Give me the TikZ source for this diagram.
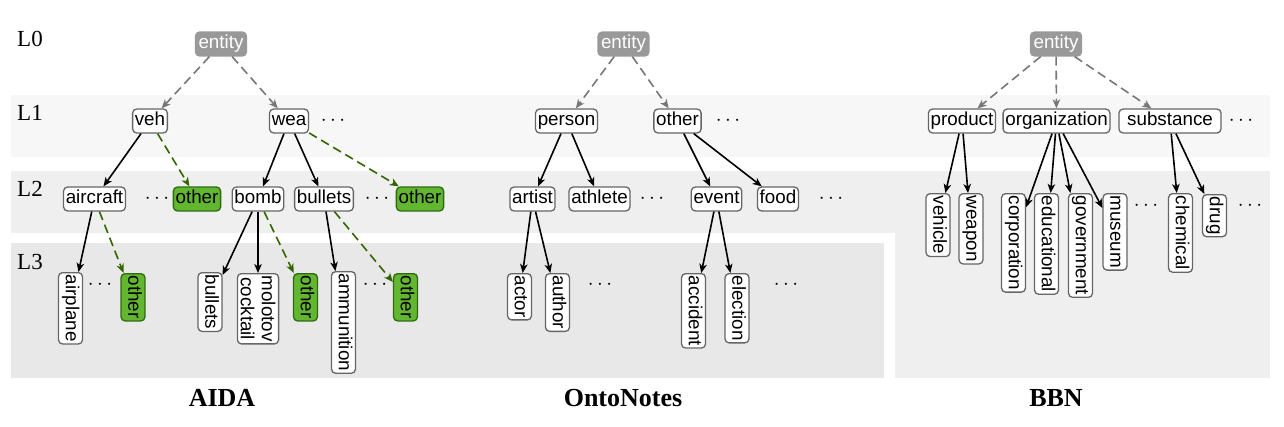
\documentclass[tikz,border=0pt]{standalone}
\usepackage{fontspec}
\setmainfont{Liberation Serif}
\newfontfamily\nodefontfam{Liberation Sans}
\usetikzlibrary{arrows.meta}
\definecolor{bandA}{HTML}{F7F7F7}
\definecolor{bandB}{HTML}{EFEFEF}
\definecolor{bandC}{HTML}{E8E8E8}
\definecolor{grnfill}{HTML}{63B630}
\definecolor{grnline}{HTML}{2E6B10}
\definecolor{grnedge}{HTML}{336600}
\definecolor{rootfill}{HTML}{999999}
\definecolor{edgegray}{HTML}{777777}
\definecolor{boxline}{HTML}{666666}
\tikzset{
  base/.style={draw=boxline, fill=white, rounded corners=4pt, line width=1.3pt,
    inner xsep=2.2pt, inner ysep=3.2pt, font=\nodefontfam\fontsize{18.8}{21}\selectfont},
  nd/.style={base, text height=13.5pt, text depth=4pt},
  grn/.style={nd, fill=grnfill, draw=grnline},
  root/.style={nd, fill=rootfill, draw=rootfill, text=white, inner xsep=3pt},
  vert/.style={rotate=-90, anchor=west},
  dotsn/.style={font=\fontsize{21}{21}\selectfont, inner sep=0pt},
  lvl/.style={font=\fontsize{23}{23}\selectfont, anchor=west, inner sep=0pt},
  ttl/.style={font=\bfseries\fontsize{26}{26}\selectfont, inner sep=0pt},
  sol/.style={draw=black, line width=1.6pt, -{Stealth[length=9pt,width=7.5pt,inset=2.5pt]}},
  gdash/.style={draw=edgegray, line width=1.6pt, dash pattern=on 9pt off 5pt, -{Stealth[length=9pt,width=7.5pt,inset=2.5pt]}},
  grdash/.style={draw=grnedge, line width=1.6pt, dash pattern=on 9pt off 5pt, -{Stealth[length=9pt,width=7.5pt,inset=2.5pt]}},
}
\begin{document}
\begin{tikzpicture}[x=1pt,y=-1pt]
\useasboundingbox (0,0) rectangle (1284,426);
% bands
\fill[bandA] (11,95) rectangle (1270,157);
\fill[bandB] (11,171) rectangle (1270,233);
\fill[bandC] (11,243) rectangle (884,378);
\fill[bandB] (895,171) rectangle (1270,378);
% level labels
\node[lvl] (l0) at (17,39) {L0};
\node[lvl] (l1) at (17,113) {L1};
\node[lvl] (l2) at (17,189) {L2};
\node[lvl] (l3) at (17,262) {L3};
% titles
\node[ttl] (tA) at (222,398) {AIDA};
\node[ttl] (tO) at (623,398) {OntoNotes};
\node[ttl] (tB) at (1056,398) {BBN};

% ---------------- AIDA ----------------
\node[root] (aE) at (221,44) {entity};
\node[nd] (aveh) at (150,121) {veh};
\node[nd] (awea) at (289,121) {wea};
\node[dotsn] (ad1) at (333,121) {$\cdots$};
\node[nd] (aair) at (94.5,199) {aircraft};
\node[dotsn] (ad2) at (157,199) {$\cdots$};
\node[grn] (ao1) at (197,199) {other};
\node[nd] (abomb) at (258,199) {bomb};
\node[nd] (abul) at (324,199) {bullets};
\node[dotsn] (ad3) at (377,199) {$\cdots$};
\node[grn] (ao2) at (420,199) {other};
\node[nd, vert] (aplane) at (70.5,272) {airplane};
\node[dotsn] (ad4) at (100,285) {$\cdots$};
\node[grn, vert] (ao3) at (133,273) {other};
\node[nd, vert] (abul2) at (210,272) {bullets};
\node[base, vert, align=center] (amol) at (258,273) {molotov\\cocktail};
\node[grn, vert] (ao4) at (305.5,273) {other};
\node[nd, vert] (aammo) at (343.5,271) {ammunition};
\node[dotsn] (ad5) at (375,285) {$\cdots$};
\node[grn, vert] (ao5) at (405.5,273) {other};
\draw[gdash] (aE) -- (aveh);
\draw[gdash] (aE) -- (awea);
\draw[sol] (aveh) -- (aair);
\draw[grdash] (aveh) -- (ao1);
\draw[sol] (awea) -- (abomb);
\draw[sol] (awea) -- (abul);
\draw[grdash] (awea) -- (ao2);
\draw[sol] (aair) -- (aplane);
\draw[grdash] (aair) -- (ao3);
\draw[sol] (abomb) -- (abul2);
\draw[sol] (abomb) -- (amol);
\draw[grdash] (abomb) -- (ao4);
\draw[sol] (abul) -- (aammo);
\draw[grdash] (abul) -- (ao5);

% ---------------- OntoNotes ----------------
\node[root] (oE) at (623.5,44) {entity};
\node[nd] (oper) at (566.5,121) {person};
\node[nd] (ooth) at (677.5,121) {other};
\node[dotsn] (od1) at (728,121) {$\cdots$};
\node[nd] (oart) at (532.5,199) {artist};
\node[nd] (oath) at (599.5,199) {athlete};
\node[dotsn] (od2) at (652,199) {$\cdots$};
\node[nd] (oevt) at (716.5,199) {event};
\node[nd] (ofood) at (778,199) {food};
\node[dotsn] (od3) at (831,199) {$\cdots$};
\node[nd, vert] (oact) at (519.5,273) {actor};
\node[nd, vert] (oaut) at (557.5,273) {author};
\node[dotsn] (od4) at (600,285) {$\cdots$};
\node[nd, vert] (oacc) at (693.5,273) {accident};
\node[nd, vert] (oele) at (737,273) {election};
\node[dotsn] (od5) at (786,285) {$\cdots$};
\draw[gdash] (oE) -- (oper);
\draw[gdash] (oE) -- (ooth);
\draw[sol] (oper) -- (oart);
\draw[sol] (oper) -- (oath);
\draw[sol] (ooth) -- (oevt);
\draw[sol] (ooth) -- (ofood);
\draw[sol] (oart) -- (oact);
\draw[sol] (oart) -- (oaut);
\draw[sol] (oevt) -- (oacc);
\draw[sol] (oevt) -- (oele);

% ---------------- BBN ----------------
\node[root] (bE) at (1056,44) {entity};
\node[nd] (bprod) at (962,121) {product};
\node[nd] (borg) at (1056.5,121) {organization};
\node[nd, minimum width=102pt] (bsub) at (1170,121) {substance};
\node[dotsn] (bd1) at (1241,121) {$\cdots$};
\node[nd, vert] (bveh) at (938,193) {vehicle};
\node[nd, vert] (bwea) at (971,193) {weapon};
\node[nd, vert] (bcorp) at (1013.5,193) {corporation};
\node[nd, vert] (bedu) at (1046.5,193) {educational};
\node[nd, vert] (bgov) at (1080.5,193) {government};
\node[nd, vert] (bmus) at (1115,193) {museum};
\node[dotsn] (bd2) at (1146,206) {$\cdots$};
\node[nd, vert] (bchem) at (1180.5,193) {chemical};
\node[nd, vert] (bdrug) at (1214.5,194) {drug};
\node[dotsn] (bd3) at (1250,206) {$\cdots$};
\draw[gdash] (bE) -- (bprod);
\draw[gdash] (bE) -- (borg);
\draw[gdash] (bE) -- (bsub);
\draw[sol] (bprod) -- (bveh);
\draw[sol] (bprod) -- (bwea);
\draw[sol] (borg) -- (bcorp);
\draw[sol] (borg) -- (bedu);
\draw[sol] (borg) -- (bgov);
\draw[sol] (borg) -- (bmus);
\draw[sol] (bsub) -- (bchem);
\draw[sol] (bsub) -- (bdrug);
\end{tikzpicture}
\end{document}
